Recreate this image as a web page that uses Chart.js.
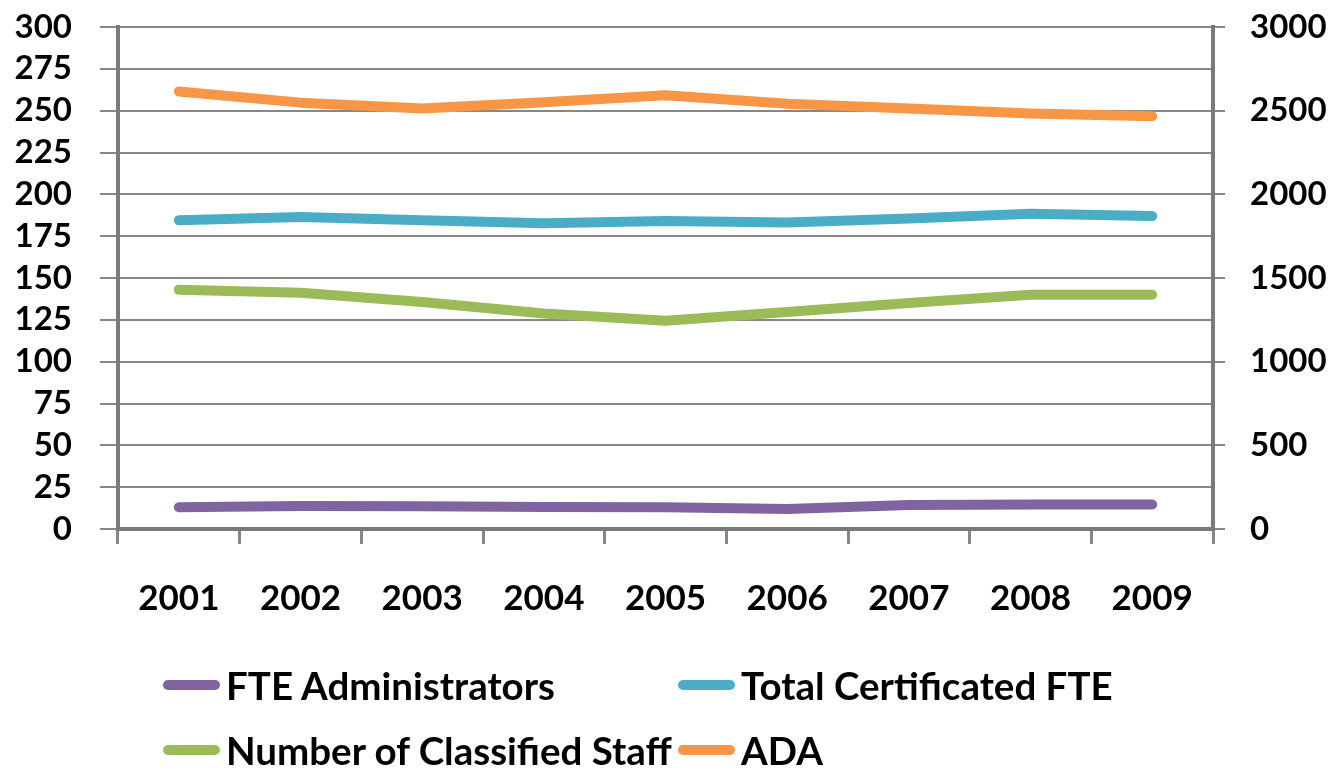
<!DOCTYPE html>
<html>
<head>
<meta charset="utf-8">
<script src="https://cdn.jsdelivr.net/npm/chart.js@4"></script>
<style>
  html, body { margin: 0; padding: 0; background: #fff; }
  #wrap { position: relative; width: 1343px; height: 773px; }
  #legend { position: absolute; left: 0; top: 0; width: 1343px; height: 773px; pointer-events: none;
            font-family: Lato, sans-serif; font-size: 38.5px; font-weight: bold; color: #000; }
  .item { position: absolute; display: flex; align-items: center; white-space: nowrap; }
  .swatch { width: 57px; height: 10px; border-radius: 5px; margin-right: 6px; }
</style>
</head>
<body>
<div id="wrap">
  <canvas id="c" width="1343" height="773"></canvas>
  <div id="legend"></div>
</div>
<script>
const years = ['2001','2002','2003','2004','2005','2006','2007','2008','2009'];
const fteAdministrators = [13, 13.8, 13.6, 13.2, 13, 12, 14.4, 14.6, 14.6];
const totalCertificatedFTE = [184.5, 186.5, 184.5, 182.7, 184.1, 183.1, 185.5, 188.4, 187];
const classifiedStaff = [143, 141.2, 135.7, 128.8, 124.5, 129.7, 135, 140, 140];
const ada = [2615, 2548, 2513, 2550, 2592, 2542, 2513, 2483, 2467];
const seriesNames = ['FTE Administrators', 'Total Certificated FTE', 'Number of Classified Staff', 'ADA'];
const colors = ['#8064A2', '#4BACC6', '#9BBB59', '#F79646'];

const yFont = { family: 'Lato, sans-serif', size: 33, weight: 'bold' };
const xFont = { family: 'Lato, sans-serif', size: 35, weight: 'bold' };
const gridColor = '#878787';

function ds(i, data, axis) {
  return {
    label: seriesNames[i], data: data, yAxisID: axis,
    borderColor: colors[i], backgroundColor: colors[i],
    borderWidth: 10, borderCapStyle: 'round', borderJoinStyle: 'round',
    pointRadius: 0, tension: 0, fill: false
  };
}

function fitY(width) {
  return s => { s.width = width; s.paddingTop = 0; s.paddingBottom = 0; };
}

new Chart(document.getElementById('c'), {
  type: 'line',
  data: {
    labels: years,
    datasets: [
      ds(0, fteAdministrators, 'y'),
      ds(1, totalCertificatedFTE, 'y'),
      ds(2, classifiedStaff, 'y'),
      ds(3, ada, 'y2')
    ]
  },
  options: {
    responsive: false, animation: false,
    layout: { padding: { top: 27, left: 0, right: 0, bottom: 0 } },
    plugins: { legend: { display: false }, tooltip: { enabled: false } },
    scales: {
      x: {
        offset: true,
        grid: { offset: true, drawOnChartArea: false, drawTicks: true, tickLength: 15, color: gridColor, lineWidth: 3 },
        border: { color: '#7a7a7a', width: 4 },
        ticks: { font: xFont, color: '#000', padding: 34, maxRotation: 0, autoSkip: false },
        afterFit: s => { s.height = 773 - 529; s.paddingLeft = 0; s.paddingRight = 0; }
      },
      y: {
        position: 'left', min: 0, max: 300,
        ticks: { stepSize: 25, font: yFont, color: '#000', padding: 28, autoSkip: false, callback: v => String(v) },
        grid: { color: gridColor, lineWidth: 2, tickLength: 18, drawTicks: true },
        border: { color: '#7a7a7a', width: 4 },
        afterFit: fitY(118)
      },
      y2: {
        position: 'right', min: 0, max: 3000,
        ticks: { stepSize: 500, font: yFont, color: '#000', padding: 25, autoSkip: false, callback: v => String(v) },
        grid: { drawOnChartArea: false, color: gridColor, lineWidth: 2, tickLength: 12, drawTicks: true },
        border: { color: '#7a7a7a', width: 4 },
        afterFit: fitY(130)
      }
    }
  }
});

const legendPos = [[163, 685], [678, 685], [163, 750], [678, 750]];
const lg = document.getElementById('legend');
seriesNames.forEach((name, i) => {
  const d = document.createElement('div');
  d.className = 'item';
  d.style.left = legendPos[i][0] + 'px';
  d.style.top = (legendPos[i][1] - 23) + 'px';
  d.style.height = '46px';
  const sw = document.createElement('div');
  sw.className = 'swatch';
  sw.style.background = colors[i];
  const t = document.createElement('span');
  t.textContent = name;
  d.appendChild(sw); d.appendChild(t);
  lg.appendChild(d);
});
</script>
</body>
</html>
